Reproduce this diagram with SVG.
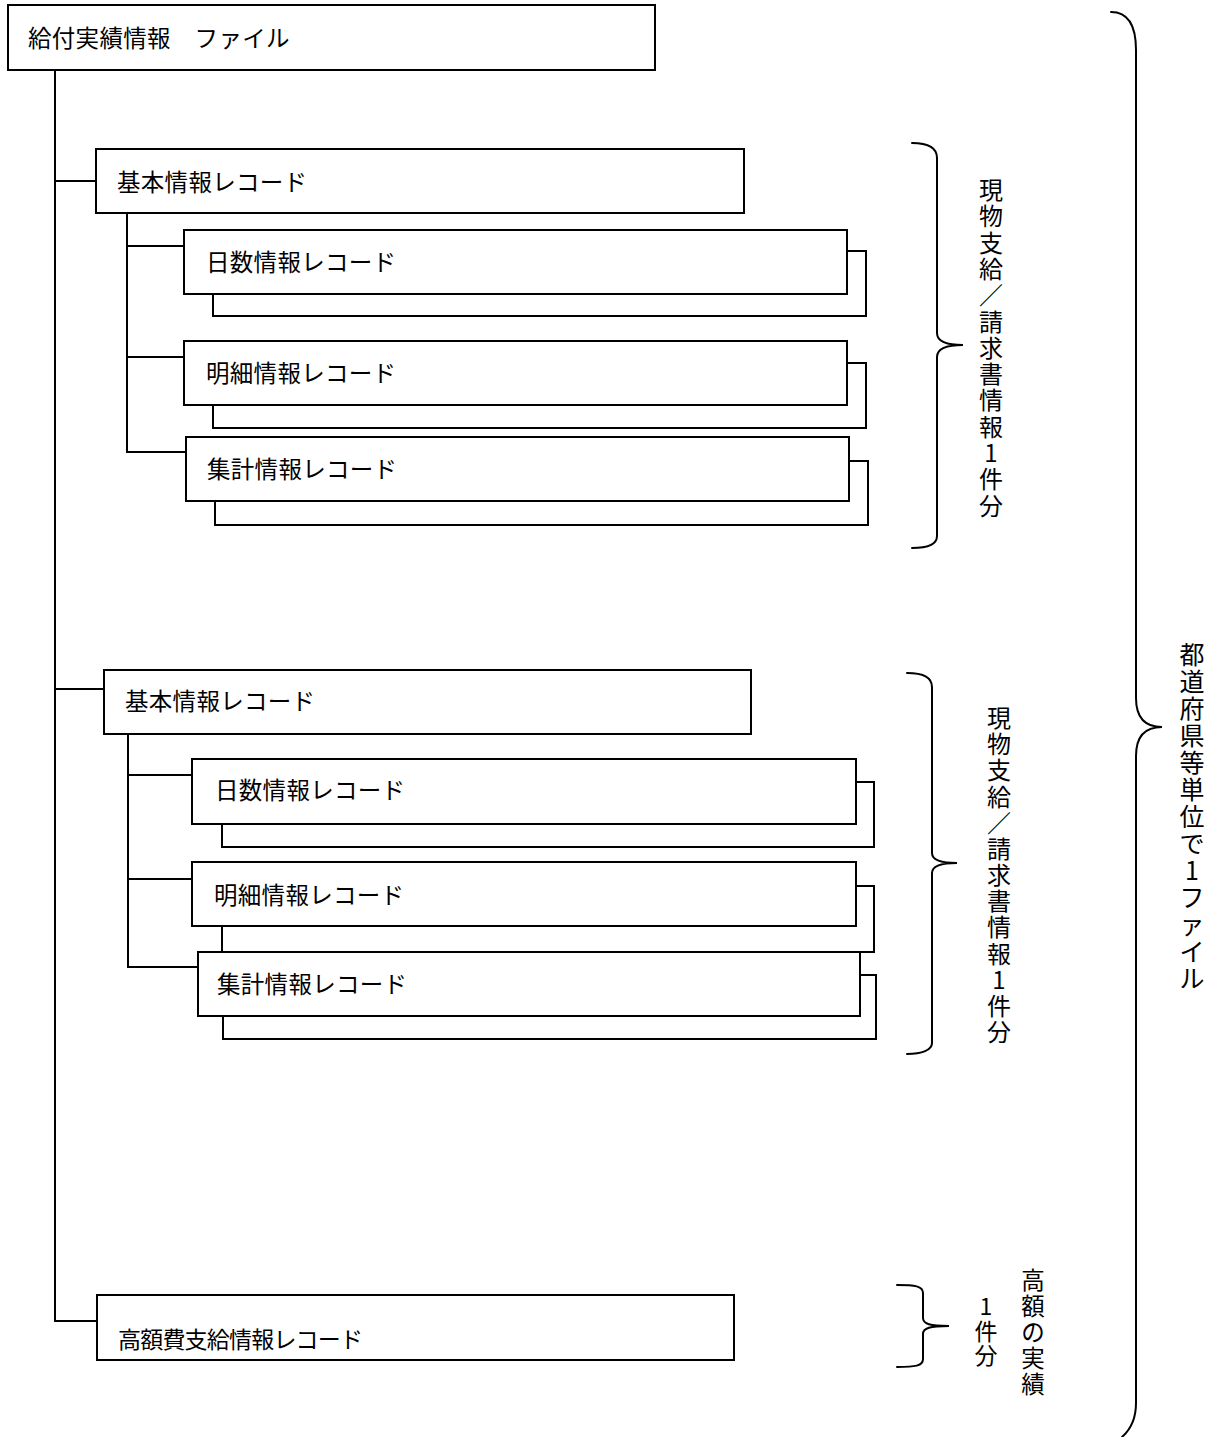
<svg xmlns="http://www.w3.org/2000/svg" width="1219" height="1437" viewBox="0 0 1219 1437">
<style>
.box{fill:#fff;stroke:#000;stroke-width:2}
.ln{fill:none;stroke:#000;stroke-width:2}
.br{fill:none;stroke:#000;stroke-width:2;stroke-linecap:round}
.lbl{font-family:"Noto Sans CJK JP","Liberation Sans",sans-serif;font-size:23.5px;letter-spacing:0.3px;fill:#000}
.vt{font-family:"Noto Sans CJK JP","Liberation Sans",sans-serif;font-size:24px;fill:#000;text-anchor:middle}
</style>
<rect width="1219" height="1437" fill="#fff"/>
<g id="connectors">
<path class="ln" d="M55,70 V1321 H97"/>
<path class="ln" d="M55,181 H96"/>
<path class="ln" d="M127,213 V452 H186 M127,246 H184 M127,357 H184"/>
<path class="ln" d="M55,689 H104"/>
<path class="ln" d="M128,734 V967 H198 M128,775 H192 M128,879 H192"/>
</g>
<g id="file">
<rect class="box" x="8" y="5" width="647" height="65"/>
<text class="lbl" x="28" y="47">給付実績情報　ファイル</text>
</g>
<g id="kihon1">
<rect class="box" x="96" y="149" width="648" height="64"/>
<text class="lbl" x="117" y="191">基本情報レコード</text>
</g>
<g id="nissu1">
<rect class="box" x="213" y="251" width="653" height="65"/>
<rect class="box" x="184" y="230" width="663" height="64"/>
<text class="lbl" x="206" y="271">日数情報レコード</text>
</g>
<g id="meisai1">
<rect class="box" x="213" y="363" width="653" height="65"/>
<rect class="box" x="184" y="341" width="663" height="64"/>
<text class="lbl" x="206" y="382">明細情報レコード</text>
</g>
<g id="shukei1">
<rect class="box" x="215" y="461" width="653" height="64"/>
<rect class="box" x="186" y="437" width="663" height="64"/>
<text class="lbl" x="207" y="478">集計情報レコード</text>
</g>
<g id="kihon2">
<rect class="box" x="104" y="670" width="647" height="64"/>
<text class="lbl" x="125" y="710">基本情報レコード</text>
</g>
<g id="nissu2">
<rect class="box" x="222" y="782" width="652" height="65"/>
<rect class="box" x="192" y="759" width="664" height="65"/>
<text class="lbl" x="215" y="799">日数情報レコード</text>
</g>
<g id="meisai2">
<rect class="box" x="222" y="886" width="652" height="66"/>
<rect class="box" x="192" y="862" width="664" height="64"/>
<text class="lbl" x="214" y="904">明細情報レコード</text>
</g>
<g id="shukei2">
<rect class="box" x="223" y="975" width="653" height="64"/>
<rect class="box" x="198" y="952" width="662" height="64"/>
<text class="lbl" x="217" y="993">集計情報レコード</text>
</g>
<g id="kougaku">
<rect class="box" x="97" y="1295" width="637" height="65"/>
<text class="lbl" x="118" y="1348" style="font-size:23px;letter-spacing:-0.8px">高額費支給情報レコード</text>
</g>
<g id="brace1">
<path class="br" d="M912,143 C928,143 937,147 937,158 L937,333 C937,341 945,345 963,345 C945,345 937,349 937,357 L937,536 C937,545 928,548 912,548"/>
<text class="vt" x="991 991 991 991 991 991 991 991 991 991 991 991 991" y="199 225.3 251.6 277.9 304.2 330.5 356.8 383.1 409.4 435.7 462 488.3 514.6">現物支給／請求書情報1件分</text>
</g>
<g id="brace2">
<path class="br" d="M907,673 C922,673 932,677 932,687 L932,853 C932,860 940,863 957,863 C940,863 932,866 932,873 L932,1043 C932,1050 922,1054 907,1054"/>
<text class="vt" x="999 999 999 999 999 999 999 999 999 999 999 999 999" y="727 753.2 779.3 805.5 831.7 857.8 884 910.2 936.4 962.5 988.7 1014.9 1041">現物支給／請求書情報1件分</text>
</g>
<g id="brace3">
<path class="br" d="M897,1285 C915,1285 923,1286 923,1293 L923,1318 C923,1324 930,1326 949,1326 C930,1326 923,1328 923,1334 L923,1359 C923,1366 915,1367 897,1367"/>
<text class="vt" x="986 986 986" y="1315 1340 1364" style="font-size:23px">1件分</text>
<text class="vt" x="1033 1033 1033 1033 1033" y="1289 1315 1341 1367 1393" style="font-size:23.5px">高額の実績</text>
</g>
<g id="brace-all">
<path class="br" d="M1111,12 C1128,12 1136,25 1136,50 L1136,698 C1136,718 1145,727 1162,727 C1145,727 1136,736 1136,756 L1136,1403 C1136,1420 1130,1430 1122,1437"/>
<text class="vt" x="1192 1192 1192 1192 1192 1192 1192 1192 1192 1192 1192 1192 1192" y="664 691 718 745 772 799 826 853 880 907 934 961 988" style="font-size:25px">都道府県等単位で1ファイル</text>
</g>
</svg>
